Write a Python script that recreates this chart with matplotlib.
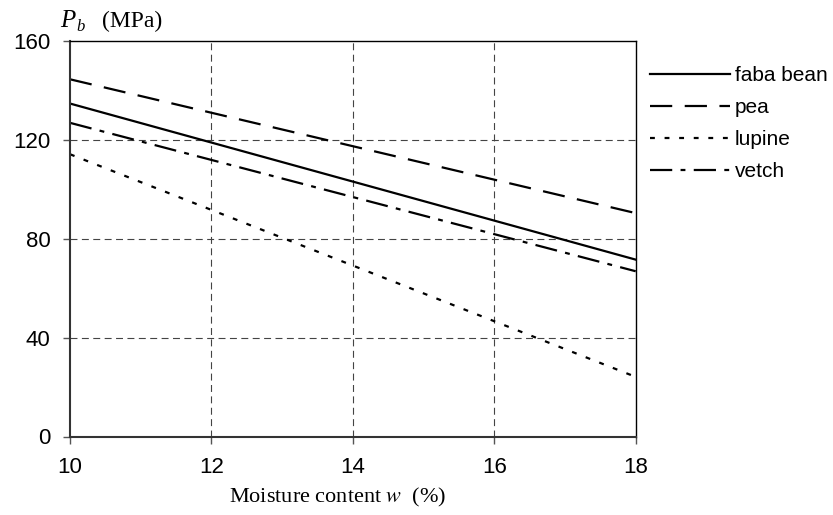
import matplotlib
matplotlib.use("Agg")
import matplotlib.pyplot as plt

plt.rcParams["lines.scale_dashes"] = False
plt.rcParams["mathtext.fontset"] = "stix"

# Moisture content (%) at the ends of each regression line
moisture = [10, 18]

# Breaking stress P_b (MPa) for each seed
faba_bean = [134.6, 71.5]
pea = [144.4, 90.3]
lupine = [114.1, 24.1]
vetch = [126.8, 66.8]

series_names = ["faba bean", "pea", "lupine", "vetch"]
x_ticks = [10, 12, 14, 16, 18]
y_ticks = [0, 40, 80, 120, 160]

fig = plt.figure(figsize=(8.33, 5.15), dpi=100)
ax = fig.add_axes([70 / 833, 1 - 436.5 / 515, (635.7 - 70) / 833, (436.5 - 40.7) / 515])

lw = 1.6
ax.plot(moisture, faba_bean, color="black", lw=lw, linestyle="-", label=series_names[0])
ax.plot(moisture, pea, color="black", lw=lw, linestyle=(0, (16, 9)), label=series_names[1])
ax.plot(moisture, lupine, color="black", lw=lw, linestyle=(0, (3.5, 7)), label=series_names[2])
ax.plot(moisture, vetch, color="black", lw=lw, linestyle=(0, (16, 6, 3.5, 6)), label=series_names[3])

ax.set_xlim(10, 18)
ax.set_ylim(0, 160)
ax.set_xticks(x_ticks)
ax.set_yticks(y_ticks)

# dashed interior grid
for xv in x_ticks[1:-1]:
    ax.axvline(xv, color="#444444", lw=0.8, linestyle=(0, (5, 3.2)), zorder=0)
for yv in y_ticks[1:-1]:
    ax.axhline(yv, color="#444444", lw=0.8, linestyle=(0, (5, 3.2)), zorder=0)

for side in ("left", "bottom"):
    ax.spines[side].set_linewidth(1.5)
    ax.spines[side].set_color("#333333")
for side in ("top", "right"):
    ax.spines[side].set_linewidth(1.0)
    ax.spines[side].set_color("black")

ax.tick_params(axis="both", direction="out", length=5, width=1.0, color="#555555",
               labelsize=16)
ax.tick_params(axis="x", pad=10)
ax.tick_params(axis="y", pad=9)
for lab in ax.get_xticklabels() + ax.get_yticklabels():
    lab.set_family("Liberation Sans")

# y-axis title: P with subscript b, then the unit
fig.text(60 / 833, 1 - 27 / 515, "P", fontsize=18, family="Liberation Serif",
         style="italic", va="baseline", ha="left")
fig.text(76 / 833, 1 - 31 / 515, "b", fontsize=12, family="Liberation Serif",
         style="italic", va="baseline", ha="left")
fig.text(102 / 833, 1 - 27 / 515, "(MPa)", fontsize=17, family="Liberation Serif",
         va="baseline", ha="left")

fig.text(338 / 833, 1 - 502 / 515, r"Moisture content $w$  (%)", fontsize=16,
         family="Liberation Serif", va="baseline", ha="center")

leg = ax.legend(loc="upper left", bbox_to_anchor=(642 / 833, 1 - 58 / 515),
                bbox_transform=fig.transFigure, frameon=False, handlelength=3.8,
                handletextpad=0.25, labelspacing=0.62, borderaxespad=0,
                prop={"family": "Liberation Sans", "size": 15})

fig.savefig("out.png", dpi=100)
